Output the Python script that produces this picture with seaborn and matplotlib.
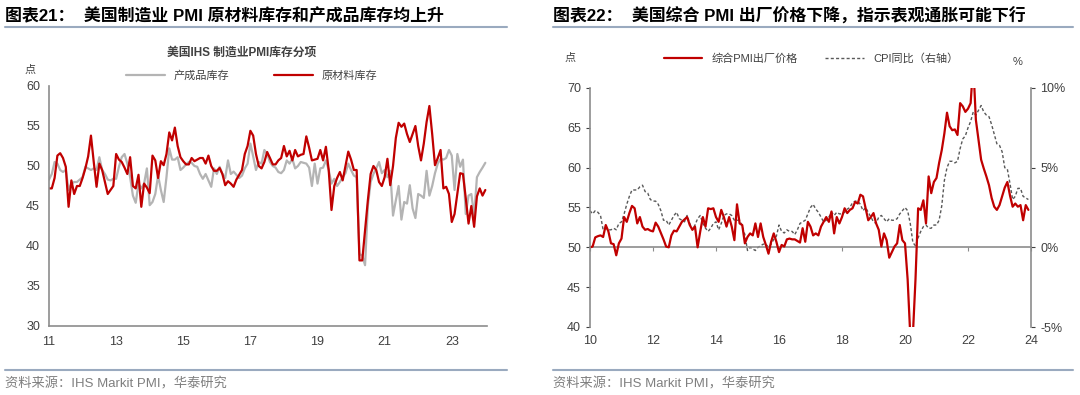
import matplotlib
matplotlib.use("Agg")
import matplotlib.pyplot as plt
import pandas as pd
import seaborn as sns

# ---- left chart: US IHS manufacturing PMI inventories, monthly from 2011-01
raw_stock = [
    47.2, 47.2, 48.5, 51.3, 51.6, 51.0, 49.9, 44.9, 48.2, 46.5, 47.5, 47.5,
    48.5, 49.7, 51.2, 53.8, 50.5, 47.4, 50.3, 49.5, 48.0, 46.5, 47.0, 47.5,
    51.5, 50.8, 50.5, 49.8, 49.0, 51.1, 47.5, 47.2, 48.9, 44.9, 47.8, 47.3,
    46.6, 51.3, 50.7, 48.5, 50.6, 50.1, 51.5, 54.2, 53.2, 54.8, 52.5, 51.1,
    50.6, 50.2, 50.2, 51.0, 50.6, 50.8, 51.0, 51.0, 50.3, 51.3, 50.0, 49.4,
    49.4, 49.75, 49.0, 47.6, 48.1, 47.8, 47.4, 48.3, 48.9, 49.5, 51.5, 52.5,
    54.4, 53.8, 51.5, 50.0, 49.7, 50.5, 51.75, 51.0, 50.2, 50.2, 50.7, 51.0,
    52.5, 51.2, 51.9, 50.7, 52.0, 51.2, 51.4, 51.5, 53.7, 52.3, 50.7, 50.8,
    50.9, 52.0, 50.7, 52.4, 49.5, 44.5, 47.5, 48.5, 49.25, 48.2, 50.0, 51.8,
    50.8, 49.5, 49.5, 38.2, 38.2, 42.0, 45.7, 49.0, 50.0, 49.5, 48.0, 47.5,
    48.6, 50.9, 47.6, 50.0, 53.5, 55.4, 54.9, 55.3, 54.0, 53.0, 54.0, 55.0,
    52.5, 50.7, 52.8, 55.5, 57.5, 54.0, 50.1, 51.0, 52.0, 47.2, 47.4, 46.5,
    43.0, 44.0, 46.5, 49.1, 49.0, 46.0, 42.8, 45.0, 42.4, 46.2, 47.2, 46.3,
    47.0,
]
finished_stock = [
    48.3, 49.0, 50.5, 50.3, 49.5, 49.25, 49.5, 47.0, 47.8, 48.0, 48.0, 48.3,
    48.6, 49.9, 49.7, 49.5, 49.7, 49.5, 51.1, 49.5, 49.0, 48.3, 48.2, 48.4,
    48.4, 49.9, 51.1, 51.5, 50.3, 48.6, 46.3, 45.4, 47.8, 47.2, 47.8, 49.7,
    45.1, 45.5, 46.5, 48.8, 47.0, 45.5, 48.6, 52.2, 50.8, 50.8, 51.1, 49.5,
    49.8, 50.2, 50.5, 50.4, 50.0, 49.9, 49.0, 48.4, 49.0, 48.2, 47.4, 49.7,
    49.0, 49.9, 49.0, 48.5, 50.7, 49.0, 49.3, 48.9, 48.5, 48.8, 49.7, 50.3,
    52.8, 51.2, 49.5, 50.5, 50.3, 52.0, 51.5, 50.5, 50.0, 49.8, 49.25, 49.1,
    49.5, 50.7, 50.3, 50.9, 49.7, 50.0, 50.5, 50.4, 50.3, 49.8, 47.5, 50.3,
    47.8, 49.7, 49.8, 50.7, 49.5, 47.8, 48.4, 47.5, 48.0, 48.6, 49.1, 50.3,
    49.5, 48.8, 48.6, 39.0, 38.8, 37.6, 45.0, 48.0, 49.0, 49.7, 50.5, 49.1,
    49.5, 48.6, 49.4, 43.8, 45.7, 47.5, 43.3, 45.5, 45.3, 47.6, 44.7, 43.5,
    46.5, 46.3, 46.0, 49.4, 46.3, 47.5, 49.1, 50.3, 50.9, 50.8, 51.0, 52.0,
    51.3, 47.0, 51.5, 49.9, 50.8, 44.0, 46.3, 46.5, 43.8, 48.6, 49.25, 49.8,
    50.4,
]
left_years = [2011, 2013, 2015, 2017, 2019, 2021, 2023]
left_yticks = [30, 35, 40, 45, 50, 55, 60]

# ---- right chart: composite PMI output prices and CPI yoy, monthly from 2010-01
output_price = [
    50.0, 50.1, 51.25, 51.4, 51.5, 51.3, 52.8, 52.0, 50.5, 50.4, 49.0, 50.5,
    51.1, 53.8, 53.2, 54.3, 55.2, 54.9, 53.0, 53.8, 52.6, 52.2, 52.3, 52.1,
    52.0, 53.1, 52.6, 51.8, 51.0, 50.1, 50.0, 51.5, 52.1, 52.0, 52.6, 53.2,
    53.5, 53.8, 52.8, 52.2, 52.6, 50.0, 52.0, 53.8, 52.6, 54.9, 54.8, 54.9,
    53.8, 53.2, 54.7, 53.8, 52.6, 53.8, 52.6, 50.9, 55.4, 53.0, 52.8, 50.5,
    51.3, 51.75, 51.5, 53.0, 51.3, 53.0, 51.3, 50.3, 49.2, 50.7, 51.75, 50.7,
    49.4, 50.3, 50.1, 51.0, 51.1, 51.0, 51.0, 50.8, 50.6, 52.4, 50.7, 53.2,
    52.6, 51.5, 51.75, 51.5, 52.6, 53.2, 53.8, 53.2, 54.5, 51.75, 53.8, 53.0,
    53.8, 54.9, 54.3, 54.7, 54.9, 55.7, 55.5, 56.6, 56.4, 54.9, 53.4, 53.8,
    54.3, 53.0, 52.2, 50.1, 51.75, 50.9, 48.7, 49.4, 50.1, 50.5, 52.8, 50.9,
    50.5, 46.0, 39.0, 39.0, 46.0, 54.9, 54.7, 55.9, 53.0, 58.9, 56.8, 58.2,
    58.7, 60.6, 62.2, 64.3, 66.9, 65.2, 64.7, 64.8, 64.1, 68.1, 67.7, 67.0,
    67.4, 68.1, 73.0, 66.0, 63.5, 61.0, 59.9, 58.9, 57.8, 56.2, 55.1, 54.7,
    55.3, 56.4, 57.5, 58.2, 56.5, 55.1, 55.5, 55.1, 55.3, 53.4, 55.3, 54.7,
]
cpi_yoy = [
    2.3, 2.1, 2.3, 2.2, 2.0, 1.1, 1.2, 1.1, 1.1, 1.2, 1.1, 1.5,
    1.6, 2.1, 2.7, 3.2, 3.6, 3.6, 3.6, 3.8, 3.9, 3.5, 3.4, 3.0,
    2.9, 2.9, 2.7, 2.3, 1.7, 1.7, 1.4, 1.7, 2.0, 2.2, 1.8, 1.7,
    1.6, 2.0, 1.5, 1.1, 1.4, 1.8, 2.0, 1.5, 1.2, 1.0, 1.2, 1.5,
    1.6, 1.1, 1.5, 2.0, 2.1, 2.1, 2.0, 1.7, 1.7, 1.7, 1.3, 0.8,
    -0.2, 0.0, -0.1, -0.2, 0.0, 0.1, 0.2, 0.2, 0.0, 0.2, 0.5, 0.7,
    1.4, 1.0, 0.9, 1.1, 1.0, 1.0, 0.8, 1.1, 1.5, 1.6, 1.7, 2.1,
    2.5, 2.7, 2.4, 2.2, 1.9, 1.6, 1.7, 1.9, 2.2, 2.0, 2.2, 2.1,
    2.1, 2.2, 2.4, 2.5, 2.8, 2.9, 2.9, 2.7, 2.3, 2.5, 2.2, 1.9,
    1.6, 1.5, 1.9, 2.0, 1.8, 1.6, 1.8, 1.7, 1.7, 1.8, 2.1, 2.3,
    2.5, 2.3, 1.5, 0.3, 0.1, 0.6, 1.0, 1.3, 1.4, 1.2, 1.2, 1.4,
    1.4, 1.7, 2.6, 4.2, 5.0, 5.4, 5.4, 5.3, 5.4, 6.2, 6.8, 7.0,
    7.5, 7.9, 8.5, 8.3, 8.6, 8.9, 8.5, 8.3, 8.2, 7.7, 7.1, 6.5,
    6.4, 6.0, 5.0, 4.9, 4.0, 3.0, 3.2, 3.7, 3.7, 3.2, 3.1, 3.0,
]
right_years = [2010, 2012, 2014, 2016, 2018, 2020, 2022, 2024]
right_yticks = [40, 45, 50, 55, 60, 65, 70]
cpi_ticks = [-5, 0, 5, 10]

RED = "#C00000"
GREY = "#B4B4B4"
AXIS = "#8C8C8C"
TXT = "#404040"

sns.set_style("white")
plt.rcParams["font.family"] = ["Liberation Sans", "Noto Sans CJK SC"]
plt.rcParams["axes.unicode_minus"] = False


def frac_year(start, n):
    d = pd.date_range(start, periods=n, freq="MS")
    return d.year + (d.month - 1) / 12


def px(x, y):
    return x / 1080, 1 - y / 395


left = pd.DataFrame({"t": frac_year("2011-01-01", len(raw_stock)),
                     "raw": raw_stock, "fin": finished_stock})
right = pd.DataFrame({"t": frac_year("2010-01-01", len(output_price)),
                      "price": output_price, "cpi": cpi_yoy})

fig = plt.figure(figsize=(10.8, 3.95), dpi=100)

# ---------------- headers / footers
for x0, x1, title in [(5, 507, "图表21：  美国制造业 PMI 原材料库存和产成品库存均上升"),
                      (553, 1073, "图表22：  美国综合 PMI 出厂价格下降，指示表观通胀可能下行")]:
    fig.text(*px(x0, 16), title, fontsize=12.2, fontweight="bold",
             color="black", va="center", ha="left")
    fig.add_artist(plt.Line2D([x0 / 1080, x1 / 1080], [1 - 27 / 395] * 2,
                              color="#9AAABF", lw=1.5))
    fig.add_artist(plt.Line2D([x0 / 1080, x1 / 1080], [1 - 370 / 395] * 2,
                              color="#9AAABF", lw=1.5))
    fig.text(*px(x0, 384), "资料来源：IHS Markit PMI，华泰研究", fontsize=9.5,
             color="#7F7F7F", va="center", ha="left")

# ---------------- left chart
ax1 = fig.add_axes([49 / 1080, 1 - 326 / 395, 438 / 1080, 240 / 395])
sns.lineplot(data=left, x="t", y="fin", ax=ax1, color=GREY, lw=1.6, label="产成品库存")
sns.lineplot(data=left, x="t", y="raw", ax=ax1, color=RED, lw=1.6, label="原材料库存")
ax1.set_xlim(2011, 2024.05)
ax1.set_ylim(30, 60)
ax1.set_xticks(left_years)
ax1.set_xticklabels([str(y)[2:] for y in left_years])
ax1.set_yticks(left_yticks)
ax1.set_xlabel("")
ax1.set_ylabel("")
for s in ["top", "right"]:
    ax1.spines[s].set_visible(False)
for s in ["left", "bottom"]:
    ax1.spines[s].set_color(AXIS)
    ax1.spines[s].set_linewidth(1.2)
ax1.tick_params(axis="both", labelsize=9, colors=TXT, length=3, width=1, direction="out")
ax1.tick_params(axis="x", pad=4)
ax1.legend(loc="center", bbox_to_anchor=(0.463, 1.042), ncol=2, frameon=False,
           fontsize=8, handlelength=3.5, columnspacing=4, labelcolor=TXT)
ax1.text(0.44, 1.14, "美国IHS 制造业PMI库存分项", transform=ax1.transAxes,
         ha="center", va="center", fontsize=8.5, fontweight="bold", color=TXT)
fig.text(*px(30, 70), "点", fontsize=8, color=TXT, ha="center", va="center")

# ---------------- right chart
ax2 = fig.add_axes([590 / 1080, 1 - 327 / 395, 441 / 1080, 239 / 395])
ax3 = ax2.twinx()
sns.lineplot(data=right, x="t", y="cpi", ax=ax3, color="#595959", lw=1.0,
             linestyle=(0, (2.2, 1.6)), label="CPI同比（右轴）")
sns.lineplot(data=right, x="t", y="price", ax=ax2, color=RED, lw=1.6,
             label="综合PMI出厂价格")
ax2.set_zorder(ax3.get_zorder() + 1)
ax2.patch.set_visible(False)
ax2.set_xlim(2010, 2024)
ax2.set_ylim(40, 70)
ax3.set_ylim(-5, 10)
ax2.set_xticks(right_years)
ax2.set_xticklabels([str(y)[2:] for y in right_years])
ax2.set_yticks(right_yticks)
ax3.set_yticks(cpi_ticks)
ax3.set_yticklabels([f"{v}%" for v in cpi_ticks])
for a in (ax2, ax3):
    a.set_xlabel("")
    a.set_ylabel("")
    for s in ["top", "bottom"]:
        a.spines[s].set_visible(False)
    a.spines["left"].set_color(AXIS)
    a.spines["right"].set_color(AXIS)
    a.spines["left"].set_linewidth(1.2)
    a.spines["right"].set_linewidth(1.2)
ax2.spines["right"].set_visible(False)
ax3.spines["left"].set_visible(False)
ax2.tick_params(axis="y", labelsize=9, colors=TXT, length=3, direction="out")
ax3.tick_params(axis="y", labelsize=9, colors=TXT, length=3, direction="out")
ax2.tick_params(axis="x", labelsize=9, colors=TXT, length=0, pad=6)

# zero line (50 / 0%) carrying the year tick marks
zero_axis = ax2.secondary_xaxis(1 / 3)
zero_axis.set_xticks(right_years)
zero_axis.set_xticklabels([])
zero_axis.spines["bottom"].set_color(AXIS)
zero_axis.spines["bottom"].set_linewidth(1.2)
zero_axis.tick_params(axis="x", length=3, color=AXIS, direction="out")

h2, l2 = ax2.get_legend_handles_labels()
h3, l3 = ax3.get_legend_handles_labels()
ax3.get_legend().remove()
ax2.legend(h2 + h3, l2 + l3, loc="center", bbox_to_anchor=(0.501, 1.125), ncol=2,
           frameon=False, fontsize=8, handlelength=3.5, columnspacing=2.5,
           labelcolor=TXT)
fig.text(*px(570, 58), "点", fontsize=8, color=TXT, ha="center", va="center")
fig.text(*px(1018, 62), "%", fontsize=8, color=TXT, ha="center", va="center")

fig.savefig("out.png", dpi=100)
